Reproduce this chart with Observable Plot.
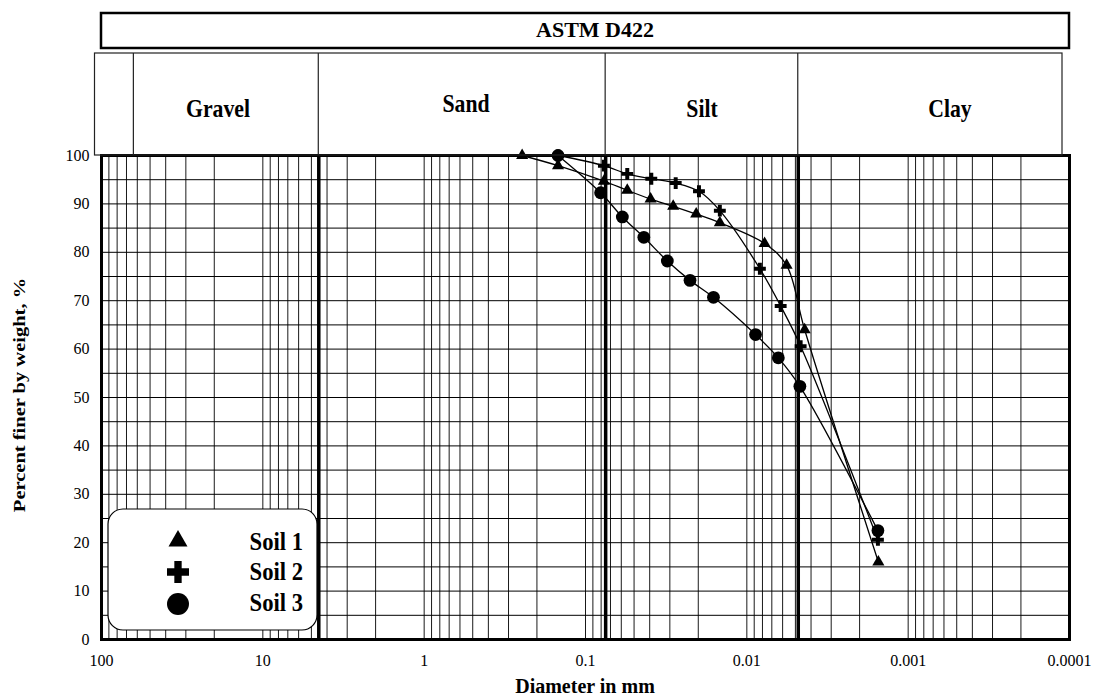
<!DOCTYPE html>
<html>
<head>
<meta charset="utf-8">
<script src="https://cdn.jsdelivr.net/npm/d3@7"></script>
<script src="https://cdn.jsdelivr.net/npm/@observablehq/plot@0.6"></script>
<style>
  html, body { margin: 0; padding: 0; background: #fff; }
  #chart { width: 1094px; height: 700px; }
</style>
</head>
<body>
<div id="chart"></div>
<script>
// ---------- data ----------
const soilNames = ["Soil 1", "Soil 2", "Soil 3"];
const soil1Diam = [0.247, 0.148, 0.0769, 0.0551, 0.0395, 0.0286, 0.0206, 0.0147, 0.00776, 0.00567, 0.00438, 0.00153];
const soil1Pct  = [100, 97.9, 94.7, 92.8, 91.0, 89.5, 87.9, 86.1, 81.8, 77.3, 64.0, 16.0];
const soil2Diam = [0.148, 0.0769, 0.0551, 0.0391, 0.0276, 0.0198, 0.0147, 0.0083, 0.00617, 0.00464, 0.00154];
const soil2Pct  = [100, 97.9, 96.2, 95.2, 94.3, 92.6, 88.6, 76.6, 68.9, 60.6, 20.6];
const soil3Diam = [0.148, 0.0806, 0.0591, 0.0435, 0.0311, 0.0225, 0.0161, 0.00883, 0.00638, 0.00469, 0.00154];
const soil3Pct  = [100, 92.3, 87.3, 83.1, 78.2, 74.2, 70.7, 63.0, 58.2, 52.3, 22.5];

const xTicks = [100, 10, 1, 0.1, 0.01, 0.001, 0.0001];
const xTickLabels = ["100", "10", "1", "0.1", "0.01", "0.001", "0.0001"];
const yTicks = [0, 10, 20, 30, 40, 50, 60, 70, 80, 90, 100];
const yGrid = [0, 5, 10, 15, 20, 25, 30, 35, 40, 45, 50, 55, 60, 65, 70, 75, 80, 85, 90, 95, 100];

const titleText = "ASTM D422";
const classNames = ["Gravel", "Sand", "Silt", "Clay"];
const classBounds = [63, 4.5, 0.075, 0.0048];   // header dividers (mm)
const boldBounds = [4.5, 0.075, 0.0048];        // heavy lines in the grid (mm)
const xLabel = "Diameter in mm";
const yLabel = "Percent finer by weight, %";

(function () {
// ---------- build table ----------
const diams = [soil1Diam, soil2Diam, soil3Diam];
const pcts = [soil1Pct, soil2Pct, soil3Pct];
const rows = [];
soilNames.forEach((s, k) => diams[k].forEach((d, i) => rows.push({soil: s, d, pct: pcts[k][i]})));

// log minor grid positions
const xGrid = [];
for (let e = -4; e <= 1; e++) for (let m = 1; m <= 9; m++) xGrid.push(m * Math.pow(10, e));
xGrid.push(100);

const symbolOf = {"Soil 1": "triangle", "Soil 2": "cross", "Soil 3": "circle"};
const rOf = {"Soil 1": 4.5, "Soil 2": 5.0, "Soil 3": 6.4};

const serif = "'Liberation Serif', 'Times New Roman', Times, serif";

const chart = Plot.plot({
  width: 1094,
  height: 700,
  marginLeft: 101,
  marginRight: 25,
  marginTop: 155,
  marginBottom: 61,
  style: {fontFamily: serif, fontSize: "16px", color: "#000", background: "#fff", overflow: "visible"},
  x: {type: "log", domain: [100, 0.0001], ticks: xTicks,
      tickFormat: d => xTickLabels[xTicks.indexOf(d)], tickSize: 0, tickPadding: 15, label: null},
  y: {domain: [0, 100], ticks: yTicks, tickSize: 0, tickPadding: 12, label: null},
  marks: [
    Plot.ruleY(yGrid, {stroke: "#000", strokeWidth: 1, strokeOpacity: 1}),
    Plot.ruleX(xGrid, {stroke: "#000", strokeWidth: 1, strokeOpacity: 0.9}),
    Plot.ruleX(boldBounds, {stroke: "#000", strokeWidth: 3.5}),
    Plot.line(rows, {x: "d", y: "pct", z: "soil", curve: "catmull-rom", stroke: "#000", strokeWidth: 1.3}),
    ...soilNames.map(s => Plot.dot(rows.filter(r => r.soil === s),
      {x: "d", y: "pct", symbol: symbolOf[s], r: rOf[s], fill: "#000", stroke: "none"})),
    Plot.frame({stroke: "#000", strokeWidth: 3})
  ]
});

document.getElementById("chart").appendChild(chart);

// ---------- decorations ----------
const svg = d3.select(chart);
const xs = chart.scale("x");
const X = v => xs.apply(v);
const left = X(100), right = X(0.0001);
const plotTop = 155;

// title box
svg.append("rect").attr("x", left).attr("y", 13).attr("width", right - left).attr("height", 35)
  .attr("fill", "none").attr("stroke", "#000").attr("stroke-width", 2.5);
svg.append("text").attr("x", 595).attr("y", 37).attr("text-anchor", "middle")
  .attr("font-family", serif).attr("font-weight", "bold").attr("font-size", 22).text(titleText);

// header box (slightly shifted to the left as in the reference)
const hx0 = left - 6.5, hx1 = right - 7;
svg.append("rect").attr("x", hx0).attr("y", 53).attr("width", hx1 - hx0).attr("height", plotTop - 53)
  .attr("fill", "none").attr("stroke", "#222").attr("stroke-width", 1.2);
classBounds.forEach(b => {
  svg.append("line").attr("x1", X(b)).attr("x2", X(b)).attr("y1", 53).attr("y2", plotTop)
    .attr("stroke", "#222").attr("stroke-width", 1.2);
});
const labelPos = [
  {x: 218, y: 117}, {x: 466, y: 112}, {x: 702, y: 117}, {x: 950, y: 117}
];
classNames.forEach((n, i) => {
  svg.append("text").attr("transform", `translate(${labelPos[i].x},${labelPos[i].y}) scale(0.87,1)`)
    .attr("text-anchor", "middle")
    .attr("font-family", serif).attr("font-weight", "bold").attr("font-size", 25).text(n);
});

// axis labels
svg.append("text").attr("x", 585).attr("y", 693).attr("text-anchor", "middle")
  .attr("font-family", serif).attr("font-weight", "bold").attr("font-size", 20).text(xLabel);
svg.append("text").attr("transform", "translate(25,395) rotate(-90) scale(1,0.85)").attr("text-anchor", "middle")
  .attr("font-family", serif).attr("font-weight", "bold").attr("font-size", 20.5).text(yLabel);

// legend
const lg = svg.append("g");
lg.append("rect").attr("x", 108).attr("y", 509).attr("width", 209).attr("height", 121)
  .attr("rx", 15).attr("ry", 15).attr("fill", "#fff").attr("stroke", "#000").attr("stroke-width", 1.2);
const legSym = [
  {type: d3.symbolTriangle, size: 156, cy: 541, by: 550},
  {type: d3.symbolCross, size: 269, cy: 572, by: 580},
  {type: d3.symbolCircle, size: 380, cy: 604, by: 611}
];
soilNames.forEach((s, i) => {
  lg.append("path").attr("d", d3.symbol(legSym[i].type, legSym[i].size)())
    .attr("transform", `translate(178,${legSym[i].cy})`).attr("fill", "#000");
  lg.append("text").attr("transform", `translate(303,${legSym[i].by}) scale(0.87,1)`).attr("text-anchor", "end")
    .attr("font-family", serif).attr("font-weight", "bold").attr("font-size", 26).text(s);
});
})();
</script>
</body>
</html>
